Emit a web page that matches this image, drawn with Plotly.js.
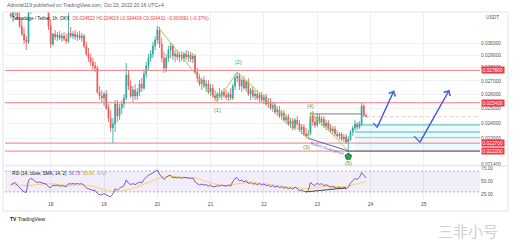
<!DOCTYPE html>
<html><head><meta charset="utf-8">
<script src="https://cdn.plot.ly/plotly-3.0.1.min.js"></script>
<style>html,body{margin:0;padding:0;background:#fff;}#chart{width:531px;height:240px;}</style>
</head><body><div id="chart"></div>
<script>
// ---- data (TAMA/USDT 1h, OKX) ----
const firstCandle = [2022, 9, 17, 6]; // 2022-10-17 06:00, hourly candles
const opens = [0.032524,0.032343,0.032706,0.033072,0.032163,0.031453,0.030760,0.030250,0.030082,0.032888,
0.033630,0.034007,0.033818,0.034197,0.034388,0.034007,0.033630,0.033257,0.031453,0.029915,
0.030760,0.030504,0.030674,0.030419,0.030589,0.030334,0.030166,0.030846,0.030589,0.030760,
0.030504,0.030674,0.030419,0.030589,0.029749,0.029093,0.028770,0.028451,0.028135,0.027979,
0.026170,0.025880,0.025736,0.026024,0.025029,0.024342,0.023674,0.023939,0.025309,0.024478,
0.025029,0.025309,0.025736,0.027438,0.026611,0.025880,0.026316,0.025880,0.026170,0.026759,
0.026463,0.027515,0.028135,0.028770,0.029093,0.029749,0.030250,0.031105,0.029915,0.028770,
0.027979,0.028770,0.029419,0.029749,0.028931,0.029093,0.028850,0.029012,0.028770,0.029093,
0.028850,0.029012,0.028690,0.028931,0.027669,0.027210,0.026759,0.027059,0.026611,0.026759,
0.026170,0.026463,0.025880,0.025736,0.026024,0.025880,0.026170,0.025952,0.025808,0.026024,
0.025736,0.026611,0.027210,0.027362,0.026611,0.027059,0.026463,0.026909,0.026024,0.026316,
0.025880,0.026024,0.025736,0.025952,0.025593,0.025808,0.025309,0.025451,0.025029,0.025239,
0.024752,0.024890,0.024478,0.024683,0.024207,0.024410,0.023939,0.024140,0.023674,0.024207,
0.023939,0.023542,0.023740,0.023282,0.023152,0.023347,0.024478,0.024073,0.023872,0.024410,
0.024073,0.024274,0.023806,0.024006,0.023674,0.023477,0.023608,0.023282,0.023152,0.023282,
0.022960,0.023088,0.022769,0.022960,0.023412,0.023674,0.023939,0.023740,0.023939,0.025169,0.024522];
const highs = [0.033257,0.032888,0.033443,0.033630,0.032706,0.031984,0.031279,0.030589,0.033350,0.034292,
0.034580,0.034773,0.034388,0.034773,0.034967,0.034580,0.034197,0.033630,0.031984,0.030846,
0.031105,0.030932,0.031018,0.030846,0.030932,0.030760,0.032615,0.031366,0.031018,0.031105,
0.030932,0.031018,0.030846,0.030760,0.030082,0.029583,0.029093,0.028770,0.028451,0.028135,
0.026611,0.026316,0.026170,0.026316,0.025309,0.024890,0.024342,0.025593,0.025593,0.025309,
0.025593,0.026024,0.028372,0.027823,0.027059,0.026611,0.026759,0.026463,0.027059,0.027210,
0.027823,0.028451,0.029093,0.029419,0.030082,0.030589,0.031453,0.031366,0.030419,0.029255,
0.029093,0.029749,0.029998,0.029915,0.029419,0.029419,0.029255,0.029337,0.029255,0.029419,
0.029337,0.029255,0.029174,0.029093,0.027979,0.027515,0.027210,0.027362,0.027059,0.027059,
0.026759,0.026759,0.026316,0.026170,0.026463,0.026316,0.026463,0.026316,0.026170,0.026463,
0.026759,0.027515,0.027669,0.027592,0.027210,0.027362,0.027059,0.027210,0.026463,0.026611,
0.026316,0.026316,0.026170,0.026170,0.026024,0.026024,0.025736,0.025736,0.025451,0.025451,
0.025169,0.025169,0.024890,0.024890,0.024614,0.024614,0.024342,0.024342,0.024342,0.024478,
0.024207,0.023939,0.023939,0.023674,0.023542,0.024752,0.024821,0.024478,0.024614,0.024614,
0.024478,0.024478,0.024207,0.024207,0.023939,0.023806,0.023806,0.023542,0.023412,0.023412,
0.023282,0.023282,0.023152,0.023542,0.023806,0.024207,0.024073,0.024140,0.025451,0.025309,0.024619];
const lows = [0.032163,0.031806,0.032343,0.031984,0.031279,0.030589,0.029915,0.029419,0.029915,0.032524,
0.033072,0.033443,0.033257,0.033630,0.033818,0.033443,0.032888,0.031105,0.029583,0.029749,
0.030250,0.030166,0.030250,0.030082,0.030166,0.029915,0.029998,0.030419,0.030334,0.030250,
0.030166,0.030250,0.030082,0.029583,0.028931,0.028451,0.028135,0.027823,0.027669,0.026024,
0.025593,0.025451,0.025169,0.024890,0.024073,0.023412,0.022706,0.023412,0.024073,0.024207,
0.024614,0.025029,0.025593,0.026316,0.025736,0.025451,0.025593,0.025593,0.025880,0.026170,
0.026316,0.027210,0.027823,0.028451,0.028770,0.029419,0.029915,0.029583,0.028451,0.027592,
0.027669,0.028451,0.028770,0.028610,0.028451,0.028610,0.028451,0.028530,0.028451,0.028610,
0.028451,0.028451,0.028372,0.027515,0.026909,0.026611,0.026316,0.026463,0.026170,0.026024,
0.025880,0.025736,0.025522,0.025451,0.025736,0.025593,0.025736,0.025593,0.025522,0.025593,
0.025593,0.026316,0.026909,0.026316,0.026170,0.026316,0.026170,0.025880,0.025593,0.025736,
0.025593,0.025593,0.025451,0.025451,0.025309,0.025169,0.025029,0.024890,0.024752,0.024614,
0.024478,0.024342,0.024207,0.024073,0.023939,0.023806,0.023674,0.023542,0.023542,0.023806,
0.023412,0.023282,0.023152,0.023024,0.022960,0.023217,0.023806,0.023674,0.023740,0.023939,
0.023806,0.023674,0.023542,0.023542,0.023347,0.023282,0.023152,0.023024,0.022896,0.022832,
0.022769,0.022643,0.022206,0.022832,0.023152,0.023477,0.023542,0.023608,0.023806,0.024410,0.024409];
const closes = [0.032343,0.032706,0.033072,0.032163,0.031453,0.030760,0.030250,0.030082,0.032888,0.033630,
0.034007,0.033818,0.034197,0.034388,0.034007,0.033630,0.033257,0.031453,0.029915,0.030760,
0.030504,0.030674,0.030419,0.030589,0.030334,0.030166,0.030846,0.030589,0.030760,0.030504,
0.030674,0.030419,0.030589,0.029749,0.029093,0.028770,0.028451,0.028135,0.027979,0.026170,
0.025880,0.025736,0.026024,0.025029,0.024342,0.023674,0.023939,0.025309,0.024478,0.025029,
0.025309,0.025736,0.027438,0.026611,0.025880,0.026316,0.025880,0.026170,0.026759,0.026463,
0.027515,0.028135,0.028770,0.029093,0.029749,0.030250,0.031105,0.029915,0.028770,0.027979,
0.028770,0.029419,0.029749,0.028931,0.029093,0.028850,0.029012,0.028770,0.029093,0.028850,
0.029012,0.028690,0.028931,0.027669,0.027210,0.026759,0.027059,0.026611,0.026759,0.026170,
0.026463,0.025880,0.025736,0.026024,0.025880,0.026170,0.025952,0.025808,0.026024,0.025736,
0.026611,0.027210,0.027362,0.026611,0.027059,0.026463,0.026909,0.026024,0.026316,0.025880,
0.026024,0.025736,0.025952,0.025593,0.025808,0.025309,0.025451,0.025029,0.025239,0.024752,
0.024890,0.024478,0.024683,0.024207,0.024410,0.023939,0.024140,0.023674,0.024207,0.023939,
0.023542,0.023740,0.023282,0.023152,0.023347,0.024478,0.024073,0.023872,0.024410,0.024073,
0.024274,0.023806,0.024006,0.023674,0.023477,0.023608,0.023282,0.023152,0.023282,0.022960,
0.023088,0.022769,0.022960,0.023412,0.023674,0.023939,0.023740,0.023939,0.025169,0.024522,0.024431];
const rsiValues = [44,46,48,42,38,34,30,29,52,56, 54,50,48,49,47,46,45,40,38,43,
42,43,41,42,41,40,46,45,46,45, 46,45,46,41,38,36,34,33,33,27,
25,24,27,24,22,21,26,36,33,37, 39,42,53,47,44,46,44,46,49,47,
54,58,62,64,67,69,72,64,58,54, 58,61,62,57,58,57,58,56,58,57,
57,56,57,49,46,43,45,43,44,41, 43,40,40,42,41,43,42,41,43,41,
50,56,57,51,53,49,52,46,48,45, 46,44,46,43,45,42,43,40,42,39,
41,38,40,37,39,36,38,35,39,37, 32,34,31,30,33,48,44,42,47,44,
46,42,44,41,39,41,38,37,39,36, 38,36,39,47,52,56,54,58,67,61, 56.78];
// RSI-based moving average, read every 4th candle
const rsiMaValues = [44,43,42,44,46,45,43,43,44,42,37,32,30,33,38,45,52,58,60,59,58,56,50,45,42,44,47,49,47,44,42,40,38,36,37,40,41,40,41,46,50.06];
const dayTicks = ['2022-10-18','2022-10-19','2022-10-20','2022-10-21','2022-10-22','2022-10-23','2022-10-24','2022-10-25'];
const dayLabels = ['18','19','20','21','22','23','24','25'];
const priceTicks = [0.030, 0.029, 0.028, 0.027, 0.026, 0.025, 0.024, 0.023, 0.0214];
const priceTickLabels = ['0.030000','0.029000','0.028000','0.027000','0.026000','0.025000','0.024000','0.023000','0.021400'];
const keyLevels = [0.0278, 0.0254, 0.0227, 0.0222];
const keyLevelLabels = ['0.027800','0.025400','0.022700','0.022200'];
const targetLevels = [0.02388, 0.02341, 0.02306];
const waveTimes = ['2022-10-20 00:00','2022-10-21 03:00','2022-10-21 12:00','2022-10-22 20:00','2022-10-22 21:00','2022-10-23 14:00'];
const wavePrices = [0.03145, 0.02552, 0.02767, 0.02296, 0.02475, 0.02221];
const waveLabels = ['(1)','(2)','(3)','(4)','(5)'];
const waveLabelTimes = ['2022-10-21 03:00','2022-10-21 12:30','2022-10-22 19:00','2022-10-22 21:00','2022-10-23 14:00'];
const waveLabelPrices = [0.02489, 0.02845, 0.02245, 0.02517, 0.02147];
const wave4Times = ['2022-10-22 21:00','2022-10-23 20:00']; const wave4Price = 0.02462;
const divTimes = ['2022-10-22 20:00','2022-10-23 14:00']; const divPrices = [0.02300, 0.02221];
const rsiDivTimes = ['2022-10-22 19:00','2022-10-23 13:00']; const rsiDivValues = [30, 37.8];
const path1Times = ['2022-10-24 01:15','2022-10-24 03:00','2022-10-24 10:35']; const path1Prices = [0.02401, 0.02371, 0.02628];
const path2Times = ['2022-10-24 19:35','2022-10-24 22:15','2022-10-25 11:30']; const path2Prices = [0.02315, 0.02276, 0.02632];
const zoneStart = '2022-10-23 17:00';
const lowLineStart = '2022-10-23 13:00';
const xStart = '2022-10-17 03:25', xEnd = '2022-10-26 01:18';

// ---- build ----
const candleTimes = opens.map((_, i) => new Date(Date.UTC(firstCandle[0], firstCandle[1], firstCandle[2], firstCandle[3] + i)).toISOString().slice(0,16).replace('T',' '));
const maTimes = candleTimes.filter((_, i) => i % 4 === 0);
const L = v => Math.log10(v);
const FONT = 'Liberation Sans, Arial, sans-serif';
const line = (x, y, color, width, dash, extra) => Object.assign({type:'scatter', mode:'lines', x, y, line:{color, width, dash: dash || 'solid'}, hoverinfo:'skip', showlegend:false}, extra || {});

const traces = [];
traces.push(line([zoneStart, xEnd, xEnd, zoneStart, zoneStart], [targetLevels[0], targetLevels[0], keyLevels[3], keyLevels[3], targetLevels[0]], 'rgba(0,0,0,0)', 0, null, {fill:'toself', fillcolor:'rgba(38,198,218,0.09)'}));
traces.push({type:'candlestick', x:candleTimes, open:opens, high:highs, low:lows, close:closes,
  increasing:{line:{color:'#26a69a', width:0.8}, fillcolor:'#26a69a'},
  decreasing:{line:{color:'#ef5350', width:0.8}, fillcolor:'#ef5350'},
  whiskerwidth:0, hoverinfo:'skip', showlegend:false});
keyLevels.forEach(v => traces.push(line([xStart, xEnd], [v, v], '#f07a80', 1)));
targetLevels.forEach((v, i) => traces.push(line([zoneStart, xEnd], [v, v], i === 2 ? '#8fd3cc' : '#4db6ac', 1)));
traces.push(line([lowLineStart, xEnd], [keyLevels[3], keyLevels[3]], '#5d606b', 1));
traces.push(line([candleTimes[candleTimes.length-1], xEnd], [closes[closes.length-1], closes[closes.length-1]], 'rgba(239,83,80,0.45)', 0.8, 'dot'));
traces.push(line(wave4Times, [wave4Price, wave4Price], '#787b86', 1));
traces.push(line(waveTimes, wavePrices, '#9ccc65', 1));
traces.push(line(divTimes, divPrices, '#6a5acd', 1));
traces.push({type:'scatter', mode:'markers', x:[waveTimes[5]], y:[0.02187], marker:{symbol:'pentagon', size:7, color:'#2e9e5b', line:{color:'#1b5e20', width:0.8}}, hoverinfo:'skip', showlegend:false});
traces.push(line(path1Times, path1Prices, '#4a62d8', 1.2));
traces.push(line(path2Times, path2Prices, '#4a62d8', 1.2));
traces.push(line([xStart, xEnd], [30, 30], '#9598a1', 0.7, '2px,2px', {yaxis:'y2'}));
traces.push(line([xStart, xEnd], [70, 70], '#9598a1', 0.7, '2px,2px', {yaxis:'y2', fill:'tonexty', fillcolor:'rgba(126,87,194,0.10)'}));
traces.push(line(maTimes, rsiMaValues, '#f3d46a', 1, null, {yaxis:'y2'}));
traces.push(line(candleTimes, rsiValues, '#7e57c2', 1, null, {yaxis:'y2'}));
traces.push(line(rsiDivTimes, rsiDivValues, '#434651', 1, null, {yaxis:'y2'}));

const ann = [];
const small = (size, color) => ({family:FONT, size, color});
ann.push({xref:'paper', yref:'paper', x:0, y:1.037, xanchor:'left', yanchor:'middle', showarrow:false,
  text:'Admiral119 published on TradingView.com, Oct 23, 2022 20:16 UTC+4', font:small(5,'#5d606b')});
ann.push({xref:'paper', yref:'paper', x:0.0105, y:0.968, xanchor:'left', yanchor:'middle', showarrow:false,
  text:'Tamadoge / Tether, 1h, OKX  <span style="color:#787b86">O</span><span style="color:#f23645">0.024522</span> <span style="color:#787b86">H</span><span style="color:#f23645">0.024619</span> <span style="color:#787b86">L</span><span style="color:#f23645">0.024409</span> <span style="color:#787b86">C</span><span style="color:#f23645">0.024431 −0.000091 (−0.37%)</span>',
  font:small(4.6,'#131722')});
ann.push({xref:'paper', yref:'paper', x:1, xshift:4, y:0.973, xanchor:'left', yanchor:'middle', showarrow:false, text:'USDT', font:small(4.8,'#50535e')});
keyLevels.forEach((v, i) => ann.push({xref:'paper', yref:'y', x:1, xshift:1, y:L(v), xanchor:'left', yanchor:'middle', showarrow:false,
  text:keyLevelLabels[i], bgcolor:'#f23645', borderpad:0.6, font:small(4.8,'#ffffff')}));
waveLabels.forEach((t, i) => ann.push({xref:'x', yref:'y', x:waveLabelTimes[i], y:L(waveLabelPrices[i]), showarrow:false, text:t, font:small(5.5,'#43a047')}));
ann.push({xref:'x', yref:'y', x:'2022-10-23 04:50', y:L(0.02239), showarrow:false, textangle:18, text:'Bullish Divergence', font:small(4.2,'#5c6bc0')});
[[path1Times, path1Prices], [path2Times, path2Prices]].forEach(([t, p]) => ann.push({xref:'x', yref:'y', axref:'x', ayref:'y',
  x:t[2], y:L(p[2]), ax:t[1], ay:L(p[1]), text:'', showarrow:true, arrowhead:4, arrowsize:1.3, arrowwidth:1.1, arrowcolor:'#4a62d8', standoff:0}));
ann.push({xref:'paper', yref:'paper', x:0.0105, y:0.1436, xanchor:'left', yanchor:'middle', showarrow:false,
  text:'RSI (14, close, SMA, 14, 2)  <span style="color:#7e57c2">56.78</span>  <span style="color:#c9a400">50.06</span>  <span style="color:#9598a1">∅ ∅</span>', font:small(4.5,'#131722')});
ann.push({xref:'paper', yref:'paper', x:0.006, y:-0.101, xanchor:'left', yanchor:'middle', showarrow:false,
  text:'<b>TV</b> TradingView', font:small(5,'#131722')});
ann.push({xref:'paper', yref:'paper', x:0.975, y:-0.16, xanchor:'center', yanchor:'middle', showarrow:false,
  text:'三非小号', font:{family:'Noto Sans CJK SC', size:15, color:'#cfd1d4'}});

const layout = {
  width:531, height:240, margin:{l:5, r:51, t:12, b:40}, paper_bgcolor:'#ffffff', plot_bgcolor:'#ffffff',
  showlegend:false, boxgap:0.45, font:{family:FONT, size:5, color:'#50535e'},
  xaxis:{type:'date', range:[xStart, xEnd], anchor:'y2', tickvals:dayTicks, ticktext:dayLabels, showgrid:true, gridcolor:'#eef0f5', gridwidth:1,
    zeroline:false, showline:false, ticks:'', tickfont:small(5,'#50535e'), rangeslider:{visible:false}, fixedrange:true},
  yaxis:{type:'log', domain:[0.1809, 1], range:[-1.67167, -1.48537], side:'right', tickvals:priceTicks, ticktext:priceTickLabels,
    showgrid:true, gridcolor:'#f2f3f7', zeroline:false, showline:false, ticks:'', tickfont:small(4.8,'#50535e'), fixedrange:true},
  yaxis2:{domain:[0, 0.1809], range:[14.4, 79.8], side:'right', tickvals:[25,50,75], ticktext:['25.00','50.00','75.00'],
    showgrid:false, zeroline:false, showline:false, ticks:'', tickfont:small(4.8,'#50535e'), fixedrange:true},
  shapes:[
    {type:'line', xref:'paper', yref:'paper', x0:0, x1:1.0589, y0:0.1809, y1:0.1809, line:{color:'#e0e3eb', width:1}},
    {type:'rect', xref:'paper', yref:'paper', x0:-0.0042, x1:1.0589, y0:-0.0585, y1:1.0, line:{color:'#e0e3eb', width:1}}
  ],
  annotations:ann
};
Plotly.newPlot('chart', traces, layout, {staticPlot:true, displayModeBar:false});
</script></body></html>
